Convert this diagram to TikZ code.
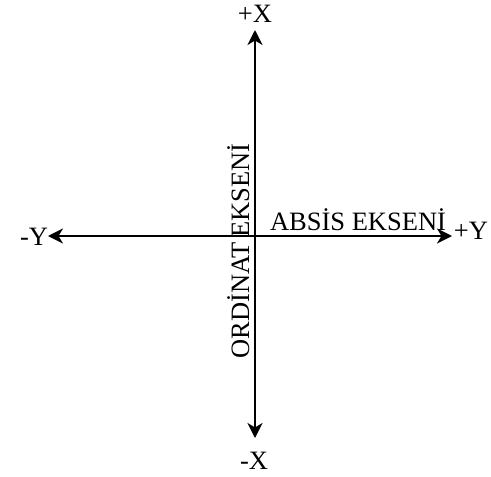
\documentclass[tikz,border=0pt]{standalone}
\usepackage{fontspec}
\setmainfont{Liberation Serif}
\usetikzlibrary{arrows.meta}
\begin{document}
\begin{tikzpicture}[x=1pt,y=-1pt,
  axis/.style={line width=1.8pt,-{Stealth[length=15pt,width=15pt,inset=4.5pt]}},
  lbl/.style={font=\fontsize{26.5}{30}\selectfont,inner sep=0pt}]
\useasboundingbox (0,0) rectangle (491,477);
\coordinate (c) at (255,236);
\coordinate (top) at (255,30);
\coordinate (bot) at (255,438);
\coordinate (lft) at (48,236);
\coordinate (rgt) at (452,236);
\draw[axis] (c) -- (top);
\draw[axis] (c) -- (bot);
\draw[axis] (c) -- (lft);
\draw[axis] (c) -- (rgt);
\node[lbl] (px) at (255,14) {+X};
\node[lbl] (mx) at (254,461) {-X};
\node[lbl] (my) at (34,237) {-Y};
\node[lbl] (py) at (471,231) {+Y};
\node[lbl,anchor=base] (abs) at (358,230) {ABSİS EKSENİ};
\node[lbl,anchor=base,rotate=90] (ord) at (249,251) {ORDİNAT\,EKSENİ};
\end{tikzpicture}
\end{document}
